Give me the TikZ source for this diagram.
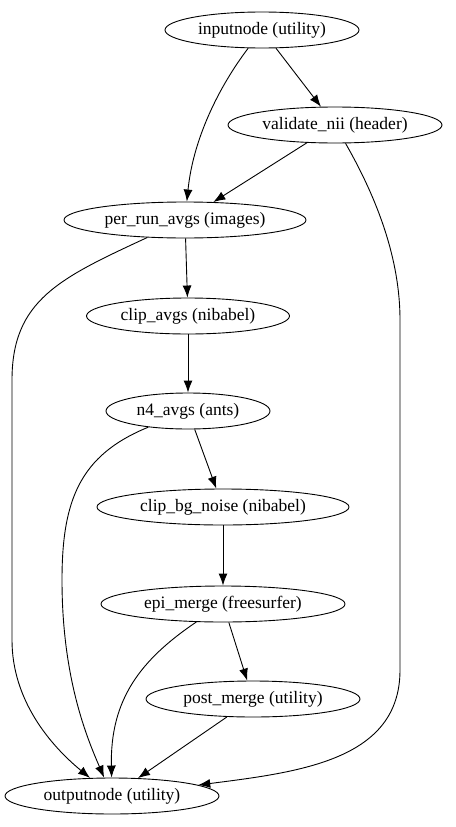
\documentclass[tikz,border=0pt]{standalone}
\usepackage{fontspec}
\setmainfont{Liberation Serif}
\usetikzlibrary{shapes.geometric,arrows.meta}
\begin{document}
\begin{tikzpicture}[x=1pt,y=-1pt,
  el/.style={draw,ellipse,inner sep=0pt,minimum height=36pt,line width=0.9pt,font=\fontsize{17.5}{20}\selectfont},
  edge/.style={draw,line width=0.9pt,-{Latex[length=12pt,width=9pt]}}]
\useasboundingbox (0,0) rectangle (455,827);
% workflow nodes
\node[el,minimum width=194pt] (in)   at (262,30)  {inputnode (utility)};
\node[el,minimum width=214pt] (vn)   at (335,125) {validate\_nii (header)};
\node[el,minimum width=242pt] (prun) at (185,220) {per\_run\_avgs (images)};
\node[el,minimum width=203pt] (clip) at (188,316) {clip\_avgs (nibabel)};
\node[el,minimum width=164pt] (n4)   at (188,411) {n4\_avgs (ants)};
\node[el,minimum width=252pt] (bg)   at (223,507) {clip\_bg\_noise (nibabel)};
\node[el,minimum width=244pt] (epi)  at (223,604) {epi\_merge (freesurfer)};
\node[el,minimum width=214pt] (post) at (253,699) {post\_merge (utility)};
\node[el,minimum width=214pt] (out)  at (112,796) {outputnode (utility)};
% straight connections
\draw[edge] (in) -- (vn);
\draw[edge] (vn) -- (prun);
\draw[edge] (prun) -- (clip);
\draw[edge] (clip) -- (n4);
\draw[edge] (n4) -- (bg);
\draw[edge] (bg) -- (epi);
\draw[edge] (epi) -- (post);
\draw[edge] (post) -- (out);
% curved connections
\draw[edge] (in) .. controls (218,88) and (193,140) .. (prun);
\draw[edge] (vn) .. controls (378,200) and (400,260) .. (400,320)
  -- (400,670) .. controls (400,760) and (300,772) .. (out);
\draw[edge] (prun) .. controls (60,278) and (12,300) .. (12,380)
  -- (12,640) .. controls (12,700) and (50,745) .. (out);
\draw[edge] (n4) .. controls (80,455) and (62,500) .. (62,580)
  .. controls (62,680) and (88,740) .. (out);
\draw[edge] (epi) .. controls (140,660) and (110,700) .. (out);
\end{tikzpicture}
\end{document}
